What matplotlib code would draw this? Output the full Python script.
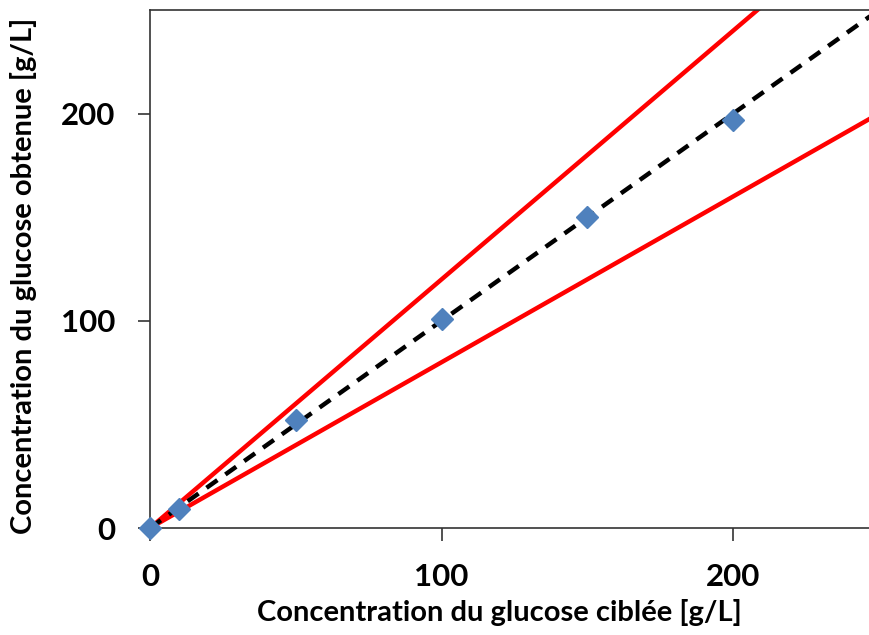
import matplotlib.pyplot as plt

# ── données ──
cible = [0, 10, 50, 100, 150, 200]
obtenue = [0, 9, 52, 101, 150, 197]
ligne_x = [0, 300]
pente_haut = 1.2
pente_bas = 0.8

X_MAX = 246.6
Y_MAX = 250

plt.rcParams["font.family"] = ["Lato", "DejaVu Sans"]

fig = plt.figure(figsize=(8.69, 6.35), dpi=100)
ax = fig.add_axes([150 / 869, 107 / 635, 1 - 150 / 869, 518 / 635])

ax.plot(ligne_x, [v * pente_haut for v in ligne_x], color="#ff0000", lw=3.2)
ax.plot(ligne_x, [v * pente_bas for v in ligne_x], color="#ff0000", lw=3.2)
ax.plot(ligne_x, ligne_x, color="black", lw=3.2, ls=(0, (3, 2.2)))
ax.plot(cible, obtenue, ls="none", marker="D", ms=11.5, color="#4f81bd",
        clip_on=False, zorder=5)

ax.set_xlim(0, X_MAX)
ax.set_ylim(0, Y_MAX)
ax.set_xticks([0, 100, 200])
ax.set_yticks([0, 100, 200])
ax.spines["right"].set_visible(False)
for s in ("left", "top", "bottom"):
    ax.spines[s].set_color("#333333")
    ax.spines[s].set_linewidth(1.2)
ax.tick_params(direction="out", length=9, width=1.2, color="#333333",
               labelsize=22.5, pad=16)
for lab in ax.get_xticklabels() + ax.get_yticklabels():
    lab.set_fontweight("bold")

ax.set_xlabel("Concentration du glucose ciblée [g/L]", fontsize=21,
              fontweight="bold", va="center")
ax.set_ylabel("Concentration du glucose obtenue [g/L]", fontsize=21,
              fontweight="bold", va="center")
ax.xaxis.set_label_coords((499 - 150) / 719, (23 - 107) / 518)
ax.yaxis.set_label_coords((24 - 150) / 719, 0.487)

fig.savefig("out.png", dpi=100)
